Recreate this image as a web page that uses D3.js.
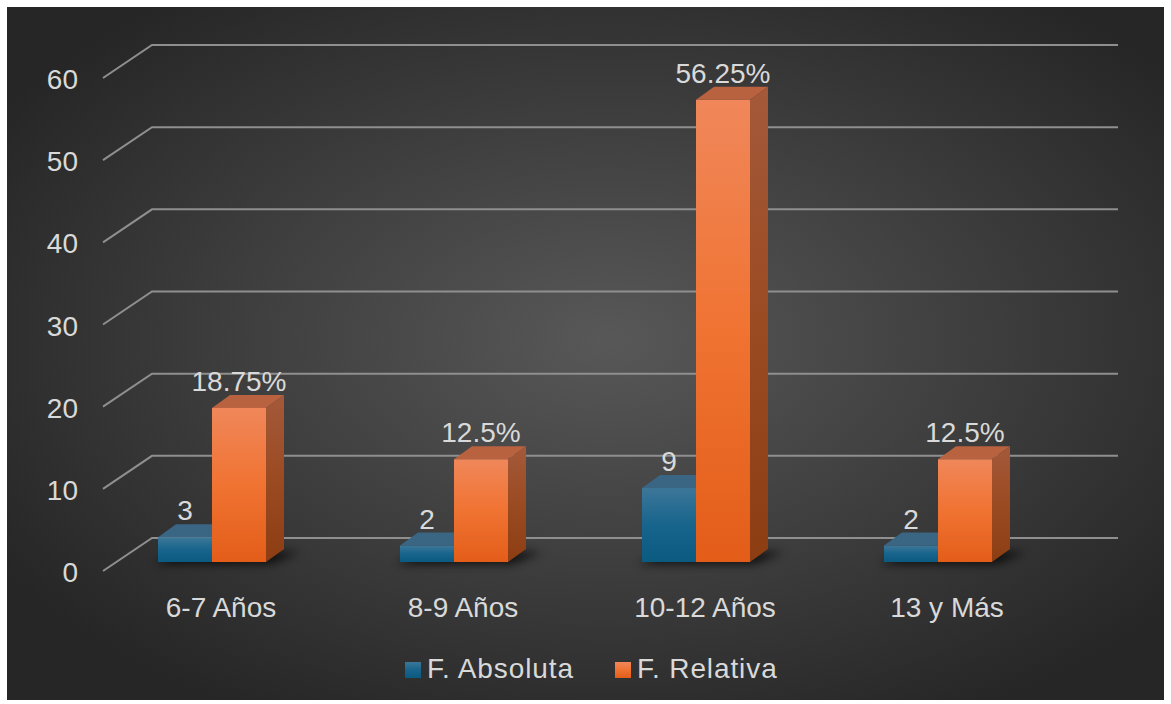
<!DOCTYPE html>
<html>
<head>
<meta charset="utf-8">
<script src="https://cdn.jsdelivr.net/npm/d3@7"></script>
<style>
    html, body { margin: 0; padding: 0; background: #ffffff; }
    svg { display: block; font-family: "Liberation Sans", Arial, sans-serif; }
</style>
</head>
<body>
<svg id="chart"></svg>
<script>
const categories = ['6-7 Años', '8-9 Años', '10-12 Años', '13 y Más'];
const absoluta   = [3, 2, 9, 2];
const relativa   = [18.75, 12.5, 56.25, 12.5];
const relLabels  = ['18.75%', '12.5%', '56.25%', '12.5%'];
const yTicks     = [0, 10, 20, 30, 40, 50, 60];
const seriesNames = ['F. Absoluta', 'F. Relativa'];

class BarChart3D {
    constructor (selector) {
        this.w = 1171;
        this.h = 704;
        this.svg = d3.select(selector)
            .attr('width', this.w)
            .attr('height', this.h);

        // back wall of the chart
        this.yWall = d3.scaleLinear().domain([0, 60]).range([538, 45]);
        this.wallLeft = 152;
        this.wallRight = 1118;
        // wall -> front edge of floor
        this.floor = { dx: -49, dy: 33 };
        // bar front face sits this far in front of the wall
        this.barFront = 24;
        // bar depth
        this.depth = { dx: 18, dy: -13 };

        this.x = d3.scaleBand().domain(categories).range([91, 1059]).padding(0);
        this.barW = 54;
        this.fontSize = 28;

        this.makeDefs();
        this.drawBackground();
        this.drawGrid();
        this.drawBars();
        this.drawLegend();
    }
    makeDefs () {
        let defs = this.svg.append('defs');

        let bg = defs.append('radialGradient')
            .attr('id', 'bg')
            .attr('cx', '52%').attr('cy', '48%').attr('r', '62%');
        bg.append('stop').attr('offset', '0%').attr('stop-color', '#585858');
        bg.append('stop').attr('offset', '100%').attr('stop-color', '#262626');

        let grads = [
            { id: 'blueFront', stops: ['#3d7799', '#17648c', '#0b5a80'] },
            { id: 'orangeFront', stops: ['#f0875a', '#f07332', '#e35d19'] },
            { id: 'orangeSide', stops: ['#a4593a', '#9b4b22', '#8c3d12'] },
            { id: 'blueSide', stops: ['#2d5672', '#1c4a66', '#12405c'] },
        ];
        for (let g of grads) {
            let lg = defs.append('linearGradient')
                .attr('id', g.id)
                .attr('x1', 0).attr('y1', 0).attr('x2', 0).attr('y2', 1);
            g.stops.forEach((c, i) => {
                lg.append('stop')
                    .attr('offset', (i * 50) + '%')
                    .attr('stop-color', c);
            });
        }

        defs.append('filter')
            .attr('id', 'blur')
            .attr('x', '-50%').attr('y', '-200%')
            .attr('width', '200%').attr('height', '500%')
            .append('feGaussianBlur')
            .attr('stdDeviation', 5);
    }
    drawBackground () {
        this.svg.append('rect')
            .attr('x', 7).attr('y', 7)
            .attr('width', 1157).attr('height', 693)
            .attr('fill', 'url(#bg)');
    }
    drawGrid () {
        let g = this.svg.append('g').attr('class', 'grid');
        let f = this.floor;

        g.selectAll('path.grid')
            .data(yTicks)
            .enter()
            .append('path')
            .attr('class', 'grid')
            .attr('d', (d) => {
                let y = this.yWall(d);
                return 'M' + (this.wallLeft + f.dx) + ',' + (y + f.dy) +
                       'L' + this.wallLeft + ',' + y +
                       'L' + this.wallRight + ',' + y;
            })
            .attr('fill', 'none')
            .attr('stroke', '#8f8f8f')
            .attr('stroke-width', 2);

        g.selectAll('text.tick')
            .data(yTicks)
            .enter()
            .append('text')
            .attr('class', 'tick')
            .attr('x', 78)
            .attr('y', (d) => { return this.yWall(d) + f.dy + 11; })
            .attr('text-anchor', 'end')
            .attr('fill', '#d9d9d9')
            .attr('font-size', this.fontSize)
            .text((d) => { return d; });

        g.selectAll('text.cat')
            .data(categories)
            .enter()
            .append('text')
            .attr('class', 'cat')
            .attr('x', (d) => { return this.x(d) + this.x.bandwidth() / 2 + 9; })
            .attr('y', 617)
            .attr('text-anchor', 'middle')
            .attr('fill', '#d9d9d9')
            .attr('font-size', this.fontSize)
            .text((d) => { return d; });
    }
    barY (v) {
        return this.yWall(v) + this.barFront;
    }
    drawBox (g, x0, v, front, side, top) {
        let d = this.depth;
        let yb = this.barY(0);
        let yt = this.barY(v);
        let x1 = x0 + this.barW;

        g.append('path')
            .attr('d', 'M' + x0 + ',' + yt + 'L' + (x0 + d.dx) + ',' + (yt + d.dy) +
                       'L' + (x1 + d.dx) + ',' + (yt + d.dy) + 'L' + x1 + ',' + yt + 'Z')
            .attr('fill', top);
        g.append('path')
            .attr('d', 'M' + x1 + ',' + yt + 'L' + (x1 + d.dx) + ',' + (yt + d.dy) +
                       'L' + (x1 + d.dx) + ',' + (yb + d.dy) + 'L' + x1 + ',' + yb + 'Z')
            .attr('fill', side);
        g.append('rect')
            .attr('x', x0).attr('y', yt)
            .attr('width', this.barW).attr('height', yb - yt)
            .attr('fill', front);
    }
    drawBars () {
        let g = this.svg.append('g').attr('class', 'bars');
        let yb = this.barY(0);

        categories.forEach((c, i) => {
            let cx = this.x(c) + this.x.bandwidth() / 2;
            let xb = cx - this.barW;
            let xo = cx;

            // floor shadow
            g.append('path')
                .attr('d', 'M' + (xb - 4) + ',' + (yb + 2) +
                           'L' + (xo + this.barW + 4) + ',' + (yb + 2) +
                           'L' + (xo + this.barW + 34) + ',' + (yb - 10) +
                           'L' + (xb + 20) + ',' + (yb - 10) + 'Z')
                .attr('fill', '#000000')
                .attr('opacity', 0.75)
                .attr('filter', 'url(#blur)');

            let bar = g.append('g');
            this.drawBox(bar, xb, absoluta[i], 'url(#blueFront)', 'url(#blueSide)', '#3a6684');
            this.drawBox(bar, xo, relativa[i], 'url(#orangeFront)', 'url(#orangeSide)', '#b8623f');

            g.append('text')
                .attr('x', xb + this.barW / 2)
                .attr('y', this.barY(absoluta[i]) - 17)
                .attr('text-anchor', 'middle')
                .attr('fill', '#d9d9d9')
                .attr('font-size', this.fontSize)
                .text(absoluta[i]);

            g.append('text')
                .attr('x', xo + this.barW / 2)
                .attr('y', this.barY(relativa[i]) - 17)
                .attr('text-anchor', 'middle')
                .attr('fill', '#d9d9d9')
                .attr('font-size', this.fontSize)
                .text(relLabels[i]);
        });
    }
    drawLegend () {
        let items = [
            { name: seriesNames[0], fill: 'url(#blueFront)', x: 405 },
            { name: seriesNames[1], fill: 'url(#orangeFront)', x: 615 },
        ];
        let g = this.svg.append('g').attr('class', 'legend');

        let item = g.selectAll('g.item')
            .data(items)
            .enter()
            .append('g')
            .attr('class', 'item')
            .attr('transform', (d) => { return 'translate(' + d.x + ',662)'; });

        item.append('rect')
            .attr('width', 16).attr('height', 16)
            .attr('fill', (d) => { return d.fill; });

        item.append('text')
            .attr('x', 22)
            .attr('y', 16)
            .attr('fill', '#d9d9d9')
            .attr('font-size', this.fontSize)
            .attr('letter-spacing', 0.9)
            .text((d) => { return d.name; });
    }
}

new BarChart3D('#chart');
</script>
</body>
</html>
